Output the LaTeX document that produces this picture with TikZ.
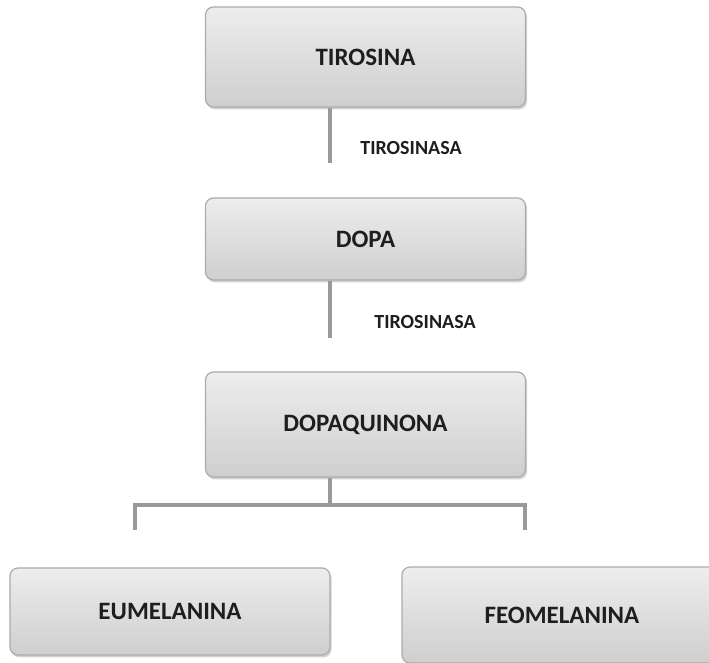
\documentclass[tikz,border=0pt]{standalone}
\usepackage{fontspec}
\setmainfont{Carlito}
\usetikzlibrary{shadows}

\definecolor{boxline}{HTML}{ABABAB}
\definecolor{linkgray}{HTML}{9A9A9A}
\definecolor{inkdark}{HTML}{1E1E1E}

\begin{document}
\begin{tikzpicture}[x=0.5pt,y=-0.5pt,
  compound/.style={draw=boxline, line width=0.6pt, rounded corners=4pt,
    top color=black!7, bottom color=black!19,
    drop shadow={shadow xshift=0.8pt,shadow yshift=-1.2pt,opacity=0.35},
    font=\bfseries\fontsize{12.5}{14}\selectfont, text=inkdark,
    inner sep=0pt, minimum width=160pt},
  enzyme/.style={font=\bfseries\fontsize{10}{12}\selectfont, text=inkdark},
  link/.style={draw=linkgray, line width=2pt}]

\useasboundingbox (0,0) rectangle (709,663);

% boxes

\node[compound, minimum height=50pt]   (tirosina) at (365.5,57)    {TIROSINA};
\node[compound, minimum height=41pt]   (dopa)     at (365.5,239)   {DOPA};
\node[compound, minimum height=52.5pt] (dopaq)    at (365.5,424.5) {DOPAQUINONA};
\node[compound, minimum height=43.5pt] (eumel)    at (170,611.5)   {EUMELANINA};
\node[compound, minimum height=48pt]   (feomel)   at (562,615)     {FEOMELANINA};

% enzymes

\node[enzyme] (enz1) at (411,148) {TIROSINASA};
\node[enzyme] (enz2) at (425,322) {TIROSINASA};

% lines

\coordinate (end1) at (330,163);
\coordinate (end2) at (330,338);
\coordinate (split) at (330,505);
\coordinate (leftend) at (135,530);
\coordinate (rightend) at (525,530);

\draw[link] (tirosina.south -| end1) -- (end1);
\draw[link] (dopa.south -| end2) -- (end2);
\draw[link] (dopaq.south -| split) -- (split);
\draw[link] (leftend) -- (leftend |- split) -- (rightend |- split) -- (rightend);
\end{tikzpicture}
\end{document}
